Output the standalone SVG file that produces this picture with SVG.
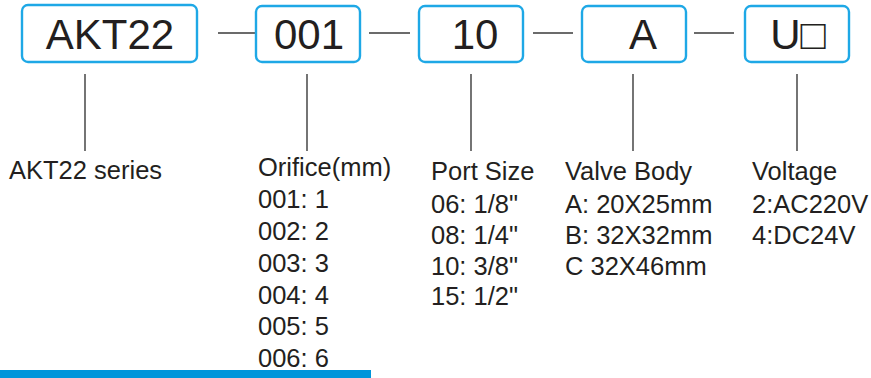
<svg xmlns="http://www.w3.org/2000/svg" width="871" height="378" viewBox="0 0 871 378">
<style>
.box{fill:#fff;stroke:#1ea8e6;stroke-width:2.4}
.code{font-family:"Liberation Sans",Arial,sans-serif;font-size:42px;fill:#231f20;text-anchor:middle}
.lbl{font-family:"Liberation Sans",Arial,sans-serif;font-size:25.5px;fill:#231f20}
.ln{stroke:#3a3a3a;stroke-width:1.4;fill:none}
</style>
<rect width="871" height="378" fill="#fff"/>
<g id="connectors">
<line class="ln" x1="218" y1="33" x2="257" y2="33"/>
<line class="ln" x1="369" y1="33" x2="410" y2="33"/>
<line class="ln" x1="533" y1="33" x2="573" y2="33"/>
<line class="ln" x1="694" y1="33" x2="734" y2="33"/>
<line class="ln" x1="85" y1="74" x2="85" y2="151"/>
<line class="ln" x1="307" y1="74" x2="307" y2="151"/>
<line class="ln" x1="471" y1="74" x2="471" y2="151"/>
<line class="ln" x1="633" y1="74" x2="633" y2="151"/>
<line class="ln" x1="797" y1="74" x2="797" y2="151"/>
</g>
<g id="node-akt22">
<rect class="box" x="22" y="5" width="175" height="57" rx="6"/>
<text class="code" x="110" y="49">AKT22</text>
</g>
<g id="node-001">
<rect class="box" x="256" y="6" width="104" height="56" rx="6"/>
<text class="code" x="309" y="49">001</text>
</g>
<g id="node-10">
<rect class="box" x="419" y="6" width="104" height="56" rx="6"/>
<text class="code" x="475" y="49">10</text>
</g>
<g id="node-a">
<rect class="box" x="582" y="6" width="104" height="56" rx="6"/>
<text class="code" x="643" y="49">A</text>
</g>
<g id="node-u">
<rect class="box" x="745" y="6" width="104" height="56" rx="6"/>
<text class="code" x="798" y="49">U□</text>
</g>
<g id="label-series">
<text class="lbl" x="9" y="179">AKT22 series</text>
</g>
<g id="label-orifice">
<text class="lbl" x="258" y="176">Orifice(mm)</text>
<text class="lbl" x="258" y="208">001: 1</text>
<text class="lbl" x="258" y="240">002: 2</text>
<text class="lbl" x="258" y="272">003: 3</text>
<text class="lbl" x="258" y="304">004: 4</text>
<text class="lbl" x="258" y="335">005: 5</text>
<text class="lbl" x="258" y="367">006: 6</text>
</g>
<g id="label-port">
<text class="lbl" x="431" y="180">Port Size</text>
<text class="lbl" x="431" y="213">06: 1/8"</text>
<text class="lbl" x="431" y="244">08: 1/4"</text>
<text class="lbl" x="431" y="275">10: 3/8"</text>
<text class="lbl" x="431" y="305">15: 1/2"</text>
</g>
<g id="label-body">
<text class="lbl" x="565" y="180">Valve Body</text>
<text class="lbl" x="565" y="213">A: 20X25mm</text>
<text class="lbl" x="565" y="244">B: 32X32mm</text>
<text class="lbl" x="565" y="275">C 32X46mm</text>
</g>
<g id="label-voltage">
<text class="lbl" x="752" y="180">Voltage</text>
<text class="lbl" x="752" y="213">2:AC220V</text>
<text class="lbl" x="752" y="244">4:DC24V</text>
</g>
<rect x="0" y="370" width="371" height="8" fill="#0095da"/>
</svg>
